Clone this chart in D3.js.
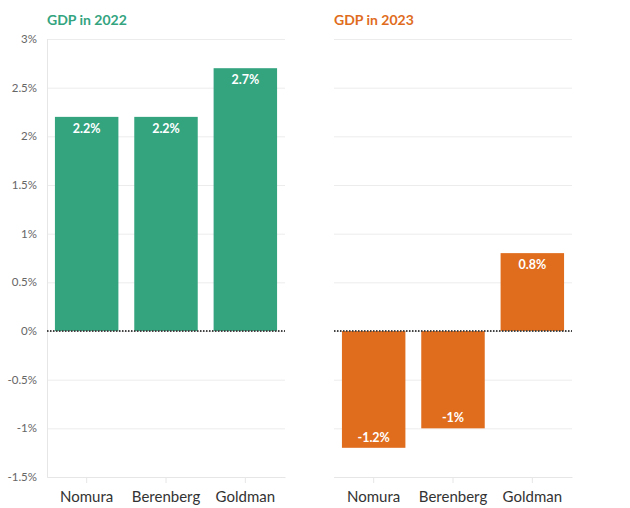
<!DOCTYPE html>
<html lang="en">
<head>
<meta charset="utf-8">
<title>GDP forecasts 2022 and 2023</title>
<style>
  body { margin: 0; background: #fff; }
  svg text { font-family: "Source Sans Pro", Lato, "Open Sans", sans-serif; }
</style>
</head>
<body>
<script src="https://cdn.jsdelivr.net/npm/d3@7"></script>
<script>
// data
var banks = ["Nomura", "Berenberg", "Goldman"];
var gdp2022 = [2.2, 2.2, 2.7];
var gdp2023 = [-1.2, -1, 0.8];
var yTicks = [-1.5, -1, -0.5, 0, 0.5, 1, 1.5, 2, 2.5, 3];

var width = 630, height = 508;
var top_y = 39, bottom_y = 477;

var svg = d3.select("body").append("svg")
  .attr("width", width).attr("height", height);

var y = d3.scaleLinear().domain([-1.5, 3]).range([bottom_y, top_y]);

var panels = [
  { title: "GDP in 2022", values: gdp2022, color: "#34a47f", x0: 47, x1: 285, showY: true },
  { title: "GDP in 2023", values: gdp2023, color: "#e06c1d", x0: 334, x1: 572, showY: false }
];

panels.forEach(function (p) {
  var x = d3.scaleBand().domain(banks).range([p.x0, p.x1])
    .paddingInner(0.2).paddingOuter(0.1);

  var g = svg.append("g");

  // gridlines
  g.selectAll(".grid").data(yTicks).enter().append("line")
    .attr("x1", p.x0).attr("x2", p.x1)
    .attr("y1", function (d) { return y(d) + 0.5; })
    .attr("y2", function (d) { return y(d) + 0.5; })
    .attr("stroke", "#ececec").attr("stroke-width", 1);

  if (p.showY) {
    g.append("line")
      .attr("x1", p.x0 + 0.5).attr("x2", p.x0 + 0.5)
      .attr("y1", top_y).attr("y2", bottom_y)
      .attr("stroke", "#e6e6e6");
    g.selectAll(".ylab").data(yTicks).enter().append("text")
      .attr("x", 37).attr("y", function (d) { return y(d) + 4; })
      .attr("text-anchor", "end")
      .style("font-size", "11.5px").style("fill", "#666")
      .text(function (d) { return d + "%"; });
  }

  // x axis
  var xAxis = d3.axisBottom(x).tickSize(6).tickSizeOuter(0).tickPadding(8);
  var ax = g.append("g")
    .attr("transform", "translate(0," + bottom_y + ")")
    .call(xAxis);
  ax.select(".domain").attr("stroke", "#e6e6e6");
  ax.selectAll(".tick line").attr("stroke", "#e6e6e6");
  ax.selectAll(".tick text")
    .style("font-size", "15px").style("fill", "#333")
    .style("font-family", "'Source Sans Pro', Lato, 'Open Sans', sans-serif");

  // bars
  g.selectAll(".bar").data(p.values).enter().append("rect")
    .attr("x", function (d, i) { return x(banks[i]); })
    .attr("y", function (d) { return y(Math.max(0, d)); })
    .attr("width", x.bandwidth())
    .attr("height", function (d) { return Math.abs(y(d) - y(0)); })
    .attr("fill", p.color);

  // value labels
  g.selectAll(".val").data(p.values).enter().append("text")
    .attr("x", function (d, i) { return x(banks[i]) + x.bandwidth() / 2; })
    .attr("y", function (d) { return d >= 0 ? y(d) + 16 : y(d) - 6; })
    .attr("text-anchor", "middle")
    .style("font-size", "12.5px").style("font-weight", "bold").style("fill", "#fff")
    .text(function (d) { return d + "%"; });

  // zero line
  g.append("line")
    .attr("x1", p.x0).attr("x2", p.x1)
    .attr("y1", y(0)).attr("y2", y(0))
    .attr("stroke", "#444").attr("stroke-width", 2)
    .attr("stroke-dasharray", "1.5,1.5");

  // title
  svg.append("text")
    .attr("x", p.x0).attr("y", 25)
    .style("font-size", "14px").style("font-weight", "bold")
    .style("fill", p.color)
    .text(p.title);
});
</script>
</body>
</html>
